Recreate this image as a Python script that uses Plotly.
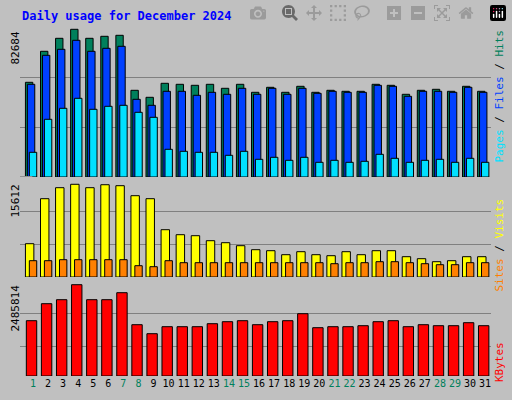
import plotly.graph_objects as go
from plotly.subplots import make_subplots

days = list(range(1, 32))
weekend_days = [1, 7, 8, 14, 15, 21, 22, 28, 29]

hits = [53013, 70367, 77645, 82684, 77645, 78765, 79324, 48535, 44616, 52454,
        51894, 51334, 51894, 49655, 51894, 47415, 50214, 47415, 50774, 47415,
        48535, 47975, 47975, 51894, 51334, 46295, 48535, 49095, 47975, 50774, 47975]
files = [51894, 68129, 71488, 76526, 70367, 72046, 73166, 43497, 40138, 47975,
         47975, 45736, 47415, 46295, 49655, 46295, 49655, 46295, 49655, 46856,
         47975, 47415, 47415, 51334, 50774, 45176, 47975, 47975, 47415, 50214, 47415]
pages = [13827, 32300, 38459, 44056, 37899, 39578, 40138, 36219, 33420, 15506,
         14387, 13827, 13827, 12148, 14387, 9908, 11028, 9349, 11028, 8229,
         9349, 8229, 8789, 12707, 10468, 8229, 9349, 9908, 8229, 10468, 8229]
visits = [5608, 13186, 15038, 15612, 15038, 15540, 15375, 13691, 13186, 7965,
          7123, 6955, 6113, 5776, 5271, 4597, 4429, 3755, 4261, 3755,
          3587, 4261, 3755, 4429, 4429, 3419, 3082, 2577, 2745, 3419, 3419]
sites = [2745, 2745, 2913, 2913, 2913, 2913, 2913, 1903, 1735, 2745,
         2408, 2408, 2408, 2408, 2408, 2408, 2408, 2408, 2408, 2408,
         2240, 2408, 2408, 2577, 2577, 2408, 2240, 2071, 2071, 2408, 2408]
kbytes = [1505650, 1968500, 2077400, 2485814, 2077400, 2077400, 2268000, 1396700, 1151700, 1342300,
          1342300, 1342300, 1424000, 1478400, 1505650, 1396700, 1478400, 1505650, 1696200, 1315100,
          1342300, 1342300, 1369500, 1478400, 1505650, 1342300, 1396700, 1369500, 1369500, 1451200, 1369500]

W, H = 512, 400
FONT = "DejaVu Sans Mono"


def px(x):
    return x / W


def py(y):
    return 1 - y / H


fig = make_subplots(rows=3, cols=1, shared_xaxes=True, vertical_spacing=0.0)


def bar(y, color, offset, width, row):
    fig.add_trace(go.Bar(
        x=days, y=y, marker=dict(color=color, line=dict(color="black", width=1)),
        offset=offset, width=width, showlegend=False, hoverinfo="skip",
    ), row=row, col=1)


bar(hits, "#00805c", -0.5, 0.49, 1)
bar(files, "#0040ff", -0.37, 0.49, 1)
bar(pages, "#00e0ff", -0.24, 0.49, 1)
bar(visits, "#ffff00", -0.5, 0.56, 2)
bar(sites, "#ff8000", -0.24, 0.49, 2)
bar(kbytes, "#ff0000", -0.44, 0.69, 3)

fig.update_layout(barmode="overlay", width=W, height=H,
                  margin=dict(l=0, r=0, t=0, b=0),
                  paper_bgcolor="#c0c0c0", plot_bgcolor="#c0c0c0",
                  font=dict(family=FONT, size=11, color="black"))

x_dom = [px(20), px(491)]
domains = [[py(177), py(25)], [py(277), py(180)], [py(376), py(280)]]
ranges = [[0, 85090], [0, 16335], [0, 2613800]]
grids = [[27990, 55980], [5557, 11114], [808600, 1699000]]
for i in range(3):
    n = "" if i == 0 else str(i + 1)
    fig.layout["yaxis" + n].update(domain=domains[i], range=ranges[i], tickvals=grids[i],
                                   showticklabels=False, gridcolor="#808080", zeroline=False)
    fig.layout["xaxis" + n].update(domain=x_dom, range=[0.14, 31.39], showgrid=False,
                                   zeroline=False)

ticktext = [f"<span style='color:#00805c'>{d}</span>" if d in weekend_days else str(d)
            for d in days]
fig.update_xaxes(tickvals=days, ticktext=ticktext, showticklabels=True, ticks="",
                 tickangle=0, tickfont=dict(size=10), row=3, col=1)

shapes = [
    dict(type="rect", x0=px(505), x1=px(511), y0=py(5), y1=py(399), fillcolor="#808080",
         line=dict(width=0)),
    dict(type="rect", x0=px(5), x1=px(511), y0=py(393), y1=py(399), fillcolor="#808080",
         line=dict(width=0)),
    dict(type="line", x0=px(1.5), x1=px(505), y0=py(1.5), y1=py(1.5), line=dict(color="white", width=2)),
    dict(type="line", x0=px(1.5), x1=px(1.5), y0=py(1.5), y1=py(393), line=dict(color="white", width=2)),
    dict(type="rect", x0=px(0.5), x1=px(511.5), y0=py(0.5), y1=py(399.5),
         line=dict(color="black", width=1)),
]
for top, bot in [(25, 177), (180, 277), (280, 376)]:
    shapes.append(dict(type="rect", x0=px(20), x1=px(491), y0=py(bot), y1=py(top),
                       line=dict(color="black", width=1)))
    shapes.append(dict(type="line", x0=px(20), x1=px(492), y0=py(bot + 1.5), y1=py(bot + 1.5),
                       line=dict(color="white", width=1)))
    shapes.append(dict(type="line", x0=px(492), x1=px(492), y0=py(bot + 1.5), y1=py(top),
                       line=dict(color="white", width=1)))
fig.update_layout(shapes=shapes)

ann = [
    dict(text="<b>Daily usage for December 2024</b>", x=px(20), y=py(16), xanchor="left",
         yanchor="middle", font=dict(color="#0000ff", size=12)),
    dict(text="82684", x=px(15), y=py(30), textangle=-90, xanchor="center", yanchor="top",
         font=dict(size=11)),
    dict(text="15612", x=px(15), y=py(183), textangle=-90, xanchor="center", yanchor="top",
         font=dict(size=11)),
    dict(text="2485814", x=px(15), y=py(283), textangle=-90, xanchor="center", yanchor="top",
         font=dict(size=11)),
    dict(text="<span style='color:#00e0ff'>Pages</span> / <span style='color:#0040ff'>Files</span>"
              " / <span style='color:#00805c'>Hits</span>",
         x=px(499), y=py(28), textangle=-90, xanchor="center", yanchor="top", font=dict(size=11)),
    dict(text="<span style='color:#ff8000'>Sites</span> / <span style='color:#ffff00'>Visits</span>",
         x=px(499), y=py(197), textangle=-90, xanchor="center", yanchor="top", font=dict(size=11)),
    dict(text="<span style='color:#ff0000'>KBytes</span>",
         x=px(499), y=py(340), textangle=-90, xanchor="center", yanchor="top", font=dict(size=11)),
]
for a in ann:
    a.update(xref="paper", yref="paper", showarrow=False)
fig.update_layout(annotations=ann)

fig.write_html("out.html", post_script="document.body.style.margin='0';")
